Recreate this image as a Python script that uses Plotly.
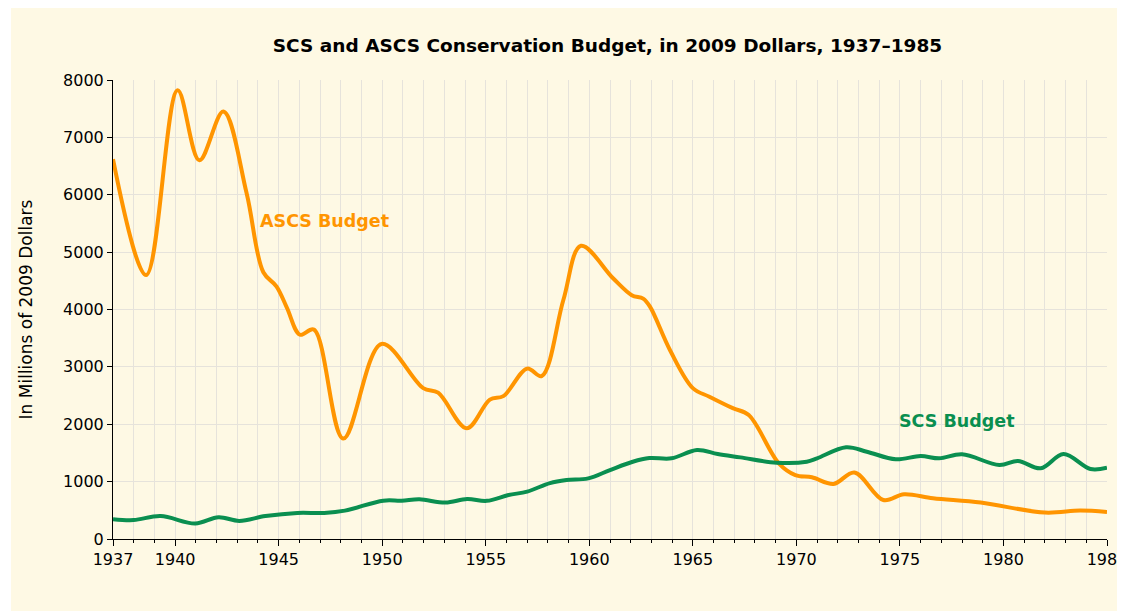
import plotly.graph_objects as go

# ASCS budget (millions of 2009 dollars), traced points
ascs_year = [1937.0, 1938.6, 1940.12, 1941.17, 1942.33, 1943.45, 1944.26, 1944.9, 1945.4,
             1946.03, 1946.7, 1948.12, 1949.97, 1951.98, 1952.7, 1954.08, 1955.2, 1955.85,
             1957.0, 1957.7, 1958.75, 1959.6, 1961.16, 1962.05, 1962.6, 1962.93, 1963.9,
             1965.0, 1965.8, 1966.93, 1967.7, 1969.15, 1969.95, 1970.75, 1971.8, 1972.8,
             1974.2, 1975.2, 1976.6, 1978.9, 1982.0, 1983.7, 1985.0]
ascs_value = [6620, 4600, 7820, 6600, 7450, 6030, 4650, 4400, 4030,
              3560, 3650, 1750, 3400, 2630, 2550, 1930, 2430, 2490,
              2970, 2840, 4170, 5110, 4540, 4250, 4190, 4050, 3290,
              2630, 2480, 2280, 2160, 1320, 1115, 1075, 960, 1160,
              680, 780, 710, 635, 460, 495, 470]

# SCS budget
scs_year = [1937.0, 1938.0, 1939.3, 1940.97, 1942.1, 1943.1, 1944.36, 1945.9, 1947.2,
            1948.2, 1950.05, 1950.94, 1951.8, 1953.05, 1954.1, 1955.05, 1956.1, 1957.0,
            1958.1, 1958.9, 1959.95, 1961.0, 1962.1, 1962.9, 1963.97, 1965.2, 1966.2,
            1967.3, 1969.05, 1970.5, 1971.0, 1972.4, 1973.4, 1974.8, 1976.0, 1976.9,
            1978.0, 1979.8, 1980.7, 1981.8, 1982.9, 1984.2, 1985.0]
scs_value = [345, 330, 400, 270, 380, 315, 400, 455, 455,
             495, 668, 668, 691, 635, 697, 665, 767, 825,
             975, 1028, 1057, 1202, 1347, 1410, 1406, 1551, 1481,
             1423, 1330, 1347, 1406, 1598, 1522, 1389, 1447, 1406,
             1476, 1290, 1359, 1232, 1481, 1220, 1243]

x_tick_vals = [1937, 1940, 1945, 1950, 1955, 1960, 1965, 1970, 1975, 1980, 1985]
y_tick_vals = [0, 1000, 2000, 3000, 4000, 5000, 6000, 7000, 8000]

title_text = "SCS and ASCS Conservation Budget, in 2009 Dollars, 1937\u20131985"
y_title = "In Millions of 2009 Dollars"

ORANGE = "#FF9500"
GREEN = "#0A8F50"
CREAM = "#FEF9E4"
GRID = "#E6E3DB"
FONT = "DejaVu Sans"

fig = go.Figure()
fig.add_trace(go.Scatter(x=ascs_year, y=ascs_value, mode="lines",
                         line=dict(color=ORANGE, width=4, shape="spline", smoothing=1.0),
                         name="ASCS Budget", showlegend=False, hoverinfo="skip"))
fig.add_trace(go.Scatter(x=scs_year, y=scs_value, mode="lines",
                         line=dict(color=GREEN, width=4, shape="spline", smoothing=1.0),
                         name="SCS Budget", showlegend=False, hoverinfo="skip"))

fig.add_annotation(x=1947.2, y=5540, text="<b>ASCS Budget</b>", showarrow=False,
                   font=dict(family=FONT, size=17.5, color=ORANGE))
fig.add_annotation(x=1977.75, y=2060, text="<b>SCS Budget</b>", showarrow=False,
                   font=dict(family=FONT, size=17.5, color=GREEN))

# page body has an 8px margin; figure sits at (8, 8)
OFF = 8
L, R, T, B = 113 - OFF, 18, 80 - OFF, 72
W, H = 1125 - OFF, 611 - OFF
pw, ph = W - L - R, H - T - B
fig.add_shape(type="rect", xref="paper", yref="paper", layer="below",
              x0=(11 - OFF - L) / pw, x1=(W - L) / pw,
              y0=-B / ph, y1=(H - B) / ph,
              fillcolor=CREAM, line=dict(width=0))

fig.update_layout(
    width=W, height=H, autosize=False,
    margin=dict(l=L, r=R, t=T, b=B, autoexpand=False),
    paper_bgcolor="white", plot_bgcolor=CREAM,
    font=dict(family=FONT, size=16, color="black"),
    title=dict(text="<b>" + title_text + "</b>", x=(607.5 - OFF) / W,
               xanchor="center", y=1 - (46 - OFF) / H, yanchor="middle",
               font=dict(family=FONT, size=18.5, color="black")),
)
fig.update_xaxes(range=[1937, 1985], tickmode="array", tickvals=x_tick_vals,
                 ticks="outside", ticklen=6, tickcolor="black", tickwidth=1,
                 showline=True, linecolor="black", linewidth=1, automargin=False,
                 showgrid=False, zeroline=False, ticklabeloverflow="allow",
                 tickfont=dict(family=FONT, size=16, color="black"),
                 minor=dict(tickmode="linear", tick0=1937, dtick=1, ticks="outside",
                            ticklen=3, tickcolor="black", showgrid=True,
                            gridcolor=GRID, gridwidth=1))
fig.update_yaxes(range=[0, 8000], tickmode="array", tickvals=y_tick_vals,
                 ticks="outside", ticklen=5, tickcolor="black", automargin=False,
                 showline=True, linecolor="black", linewidth=1,
                 showgrid=True, gridcolor=GRID, gridwidth=1, zeroline=False,
                 tickfont=dict(family=FONT, size=16, color="black"),
                 title=dict(text=y_title, standoff=26,
                            font=dict(family=FONT, size=17, color="black")))

fig.write_html("out.html")
